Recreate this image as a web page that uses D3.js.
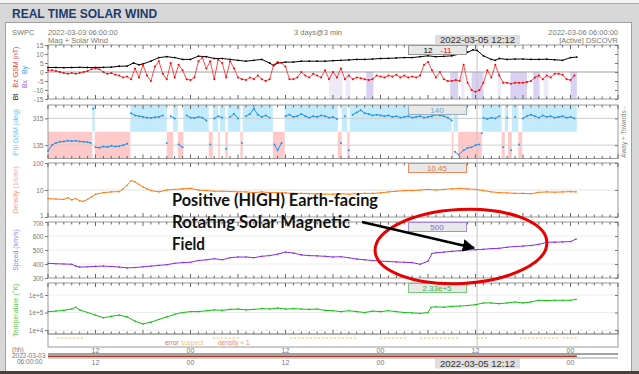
<!DOCTYPE html>
<html>
<head>
<meta charset="UTF-8">
<title>Real Time Solar Wind</title>
<style>
    body { margin: 0; background: #d7d7d7; }
    svg text { font-family: "Liberation Sans", Arial, sans-serif; }
</style>
</head>
<body>
<svg id="chart" width="639" height="374"></svg>
<script src="https://d3js.org/d3.v7.min.js"></script>
<script>

// hours after 2022-03-03 06:00 UTC
var cursorHour = 54.2;   // 2022-03-05 12:12

var bt = [[0,2.5],[1,2.5],[2,2.4],[3,2.5],[4,2.6],[5,2.5],[6,2.5],[7,2.6],[8,2.7],[9,3.2],[10,3.3],[10.8,5],[11.5,4],[12,4.5],[13,6],[14,8],[15,8.5],[16,8],[17,7],[18,7],[19,8.8],[20,8.5],[21,7.5],[22,7.5],[23,7],[24,6.5],[25,6],[26,6.5],[27,7],[28,5],[28.5,3.5],[29,5],[30,5.5],[31,5.5],[32,6],[33,6],[34,6],[35,6],[36,6.3],[37,6.5],[38,6.7],[39,7],[40,7],[41,7.2],[42,7.5],[43,7.6],[44,7.8],[45,8],[46,8],[47,8.5],[48,9],[49,8.5],[50,8.7],[51,9],[52,10],[53,11],[53.7,12.3],[54.2,12],[55,9],[56,7],[56.5,6.5],[57,7.5],[58,7],[59,7.2],[60,7.2],[61,7],[62,7],[63,7.1],[64,6.8],[65,6.5],[66,8],[66.8,8.3]];

var bz = [[0,1],[0.5,1],[1,0.5],[1.5,0],[2,-0.5],[2.5,-1],[3,-0.5],[3.5,-1],[4,-0.5],[4.5,0],[5,0.5],[5.5,1.5],[6,2],[6.5,1.5],[7,0],[7.5,-1],[8,-0.5],[8.5,-1.5],[9,-2],[9.5,-3],[10,-2.5],[10.5,-4],[11,2],[11.5,-3],[12,4],[12.5,-2],[13,-5],[13.5,3],[14,6],[14.5,-1],[15,-4],[15.5,5],[16,-3],[16.5,4],[17,1],[17.5,-4],[18,-4.5],[18.5,-3],[19,6],[19.5,8],[20,2],[20.5,6],[21,-4],[21.5,7],[22,5],[22.5,-3],[23,6],[23.5,2],[24,-3],[24.5,-4],[25,-4.5],[25.5,-3],[26,-4],[26.5,-2],[27,-4],[27.5,-5],[28,-4],[28.5,4],[29,5.5],[29.5,5],[30,3],[30.5,-4],[31,-4],[31.5,-3],[32,0],[32.5,-2],[33,-3],[33.5,-1],[34,-2],[34.5,-3],[35,1],[35.5,-4],[36,0],[36.5,-3],[37,2],[37.5,-4],[38,-2],[38.5,-4],[39,-3],[39.5,-3.5],[40,-4],[40.5,-4.5],[41,-4],[41.5,-2],[42,-2.5],[42.5,-3],[43,-2],[43.5,-2.5],[44,-1.5],[44.5,-3],[45,-2],[45.5,-3],[46,-2.5],[46.5,-3],[47,-2],[47.5,4],[48,5.5],[48.5,1],[49,-3],[49.5,0],[50,-4],[50.5,-5],[51,-5],[51.5,-4.5],[52,-5],[52.5,4],[53,-6],[53.5,-10],[54,-11],[54.5,-10],[55,-6],[55.5,1],[56,-3],[56.5,4],[57,-2],[57.5,-6],[58,-6],[58.5,-6.5],[59,-6],[59.5,-6],[60,-6],[60.5,-5.5],[61,-5],[61.5,-3],[62,-2],[62.5,-4],[63,-2],[63.5,-3],[64,-1],[64.5,-1],[65,-1.5],[65.5,-4],[66,-4.5],[66.5,-2]];

// southward Bz periods (purple shading): [start, end, strong?]
var bzSouth = [[35.5,37.2,0],[37.6,38.2,0],[40.2,41.1,1],[50.8,51.8,1],[52.2,52.6,0],[53.5,55,1],[56.8,57.2,0],[58.4,60.5,1],[61.3,62.1,1],[62.6,63.2,0],[66,66.8,1]];

var phi = [[0,95],[0.5,135],[1,150],[1.5,158],[2,160],[2.5,165],[3,162],[3.5,165],[4,160],[4.5,158],[5,155],[5.4,150],[5.7,20],[6,120],[6.5,118],[7,125],[7.5,122],[8,130],[8.5,125],[9,128],[9.5,135],[10,145],[10.5,350],[11,335],[11.5,330],[12,325],[12.5,320],[13,318],[13.5,322],[14,325],[14.5,335],[15,150],[15.5,330],[16,315],[16.5,140],[17,120],[17.5,335],[18,320],[18.5,318],[19,325],[19.5,320],[20,300],[20.5,140],[21,315],[21.5,330],[22,320],[22.5,110],[23,325],[23.5,345],[24,315],[24.5,150],[25,330],[25.5,345],[26,20],[26.5,340],[27,325],[27.5,335],[28,320],[28.6,140],[29,100],[29.5,150],[30,330],[30.5,340],[31,325],[31.5,330],[32,345],[32.5,330],[33,320],[33.5,330],[34,325],[34.5,335],[35,330],[35.5,320],[36,325],[36.5,310],[37,150],[37.5,330],[38,100],[38.5,340],[39,355],[39.5,10],[40,350],[40.5,345],[41,335],[41.5,340],[42,335],[42.5,330],[43,335],[43.5,325],[44,330],[44.5,320],[45,325],[45.5,330],[46,320],[46.5,325],[47,330],[47.5,320],[48,325],[48.5,330],[49,340],[49.5,335],[50,330],[50.5,320],[51,300],[51.4,90],[51.9,70],[52.5,100],[53,115],[53.5,120],[54,135],[54.5,140],[54.8,215],[55,320],[55.5,310],[56,320],[56.5,315],[57,330],[57.5,120],[58,320],[58.5,100],[59,325],[59.5,140],[60,315],[60.5,330],[61,340],[61.5,330],[62,320],[62.5,335],[63,325],[63.5,330],[64,320],[64.5,325],[65,330],[65.5,320],[66,325],[66.5,315]];

// IMF sector: A = away, T = towards
var sectors = [[0,5.6,"T"],[5.6,5.9,"A"],[5.9,10.4,"T"],[10.4,15.0,"A"],[15.0,15.8,"T"],[15.8,16.4,"A"],[16.4,17.1,"T"],[17.1,20.3,"A"],[20.3,20.8,"T"],[20.8,21.5,"A"],[21.5,21.7,"T"],[21.7,22.4,"A"],[22.4,22.7,"T"],[22.7,24.3,"A"],[24.3,24.6,"T"],[24.6,28.4,"A"],[28.4,29.9,"T"],[29.9,36.6,"A"],[36.6,37.1,"T"],[37.1,37.8,"A"],[37.8,38.1,"T"],[38.1,51.0,"A"],[51.0,51.2,"T"],[51.2,51.8,"A"],[51.8,54.8,"T"],[54.8,57.3,"A"],[57.3,57.7,"T"],[57.7,58.1,"A"],[58.1,58.6,"T"],[58.6,59.4,"A"],[59.4,59.9,"T"],[59.9,66.8,"A"]];

var density = [[0,4.8],[1,4.6],[2,4.5],[2.5,5.2],[3,4.3],[3.5,4.8],[4,4.0],[4.5,3.8],[5,4.5],[5.5,5.5],[6,7],[7,8],[8,8.5],[9,8.7],[9.5,11],[10,15],[10.5,22],[11,20],[11.5,16],[12,13],[12.5,11],[13,9.5],[14,8.5],[15,10],[16,10.5],[17,11],[18,11.5],[19,10],[20,9.5],[21,9],[22,9],[23,8.8],[24,8.5],[25,8.5],[26,8],[27,8.5],[28,8],[29,8],[30,7.8],[31,7.5],[32,7.5],[33,7.3],[34,7.2],[35,7],[36,7],[37,7.2],[38,7],[39,7.3],[40,7.5],[41,7.5],[42,7.8],[43,8.5],[44,9],[45,9.5],[46,9.5],[47,10],[48,10.5],[49,10],[50,10.5],[51,11],[52,11.5],[53,11],[54,10.5],[55,9.5],[56,8.5],[57,8],[58,7.8],[59,7.5],[60,7.5],[61,7.3],[62,8.2],[63,8.5],[64,8.3],[65,8.5],[66,8.7],[66.7,8.5]];

var speed = [[0,405],[1,402],[2,400],[3,398],[3.5,385],[4,378],[5,380],[6,383],[7,385],[8,382],[9,378],[10,372],[11,375],[12,380],[13,385],[14,390],[15,395],[16,405],[17,410],[18,412],[19,425],[20,430],[21,438],[22,430],[23,445],[24,450],[25,450],[26,445],[27,455],[28,460],[29,470],[30,485],[31,478],[32,465],[33,460],[34,458],[35,455],[36,450],[37,452],[38,445],[39,435],[40,430],[41,425],[42,420],[43,418],[44,415],[45,412],[46,410],[47,398],[48,420],[48.5,475],[49,480],[50,485],[51,490],[52,495],[53,500],[54,502],[55,505],[56,510],[57,512],[58,520],[59,525],[60,528],[61,532],[62,540],[63,555],[64,556],[65,558],[66,560],[66.7,578]];

var temperature = [[0,1.12e5],[1,1.2e5],[2,1.32e5],[3,1.58e5],[3.5,2.0e5],[4,1.41e5],[5,1.0e5],[6,7.1e4],[7,5.0e4],[8,6.0e4],[9,7.1e4],[10,5.6e4],[11,3.2e4],[12,2.2e4],[13,2.8e4],[14,4.0e4],[15,5.6e4],[16,7.9e4],[17,1.0e5],[18,1.12e5],[19,1.12e5],[20,1.26e5],[21,1.41e5],[22,1.32e5],[23,1.5e5],[24,1.58e5],[25,1.41e5],[26,1.5e5],[27,1.66e5],[28,1.58e5],[29,1.78e5],[30,1.58e5],[31,1.66e5],[32,1.58e5],[33,1.5e5],[34,1.58e5],[35,1.32e5],[36,1.26e5],[37,1.12e5],[38,1.26e5],[39,1.12e5],[40,1.0e5],[41,1.2e5],[42,1.12e5],[43,1.26e5],[44,1.12e5],[45,1.0e5],[46,9.5e4],[47,8.9e4],[48,1.0e5],[48.4,2.0e5],[49,2.1e5],[50,2.0e5],[51,2.24e5],[52,2.33e5],[53,2.5e5],[54,2.8e5],[55,3.5e5],[56,3.5e5],[57,3.2e5],[58,3.5e5],[59,4.0e5],[60,3.5e5],[61,4.0e5],[62,5.0e5],[63,4.8e5],[64,5.0e5],[65,5.0e5],[66,5.0e5],[66.7,5.6e5]];

// suspect data flags
var suspectFlags = [[1.1,4.4],[20.8,24.3],[30.6,39],[41.9,45.3],[47,52],[54.2,55.5],[59.6,64.7],[65,66.8]];

var hourTicks = [6, 18, 30, 42, 54, 66];
var hourLabels = ["12", "00", "12", "00", "12", "00"];

var bTicks = [15, 10, 5, 0, -5, -10, -15];
var phiTicks = [315, 135];
var denTicks = [100, 10, 1];
var spdTicks = [700, 600, 500, 400, 300];
var tmpTicks = [1e6, 1e5, 1e4];
var tmpTickLabels = ["1e+6", "1e+5", "1e+4"];

var svg = d3.select("#chart");

var x = d3.scaleLinear().domain([0, 72]).range([48, 618]);

// page frame
svg.append("rect").attr("x", 0).attr("y", 0).attr("width", 639).attr("height", 3).style("fill", "#f4f4f4");
svg.append("line").attr("x1", 0).attr("x2", 639).attr("y1", 3.5).attr("y2", 3.5).style("stroke", "#a8a8a8");
svg.append("text").attr("x", 12).attr("y", 17.5)
    .style("font-size", "12px").style("font-weight", "bold").style("fill", "#1d3b6c")
    .text("REAL TIME SOLAR WIND");
svg.append("rect").attr("x", 5.5).attr("y", 22.5).attr("width", 626).attr("height", 352)
    .style("fill", "#ffffff").style("stroke", "#a0a0a0");
svg.append("rect").attr("x", 0).attr("y", 371).attr("width", 639).attr("height", 3).style("fill", "#4a4038");

var small = "6.5px", grey = "#777";

svg.append("text").attr("x", 12).attr("y", 35).style("font-size", "7.5px").style("fill", grey).text("SWPC");
svg.append("text").attr("x", 48).attr("y", 35).style("font-size", "7.5px").style("fill", grey).text("2022-03-03 06:00:00");
svg.append("text").attr("x", 48).attr("y", 42.5).style("font-size", "7.5px").style("fill", grey).text("Mag + Solar Wind");
svg.append("text").attr("x", 318).attr("y", 35).attr("text-anchor", "middle").style("font-size", "7.5px").style("fill", grey).text("3 days@3 min");
svg.append("text").attr("x", 618).attr("y", 35).attr("text-anchor", "end").style("font-size", "7.5px").style("fill", grey).text("2022-03-06 06:00:00");
svg.append("text").attr("x", 618).attr("y", 42.5).attr("text-anchor", "end").style("font-size", "7.5px").style("fill", grey).text("[Active] DSCOVR");

// panels
var panels = [
    { top: 45, bottom: 99 },
    { top: 105, bottom: 158.5 },
    { top: 163, bottom: 217 },
    { top: 222, bottom: 278 },
    { top: 283, bottom: 334 }
];

var yB = d3.scaleLinear().domain([-15, 15]).range([99, 45]);
var yPhi = d3.scaleLinear().domain([45, 405]).range([158.5, 105]);
var yDen = d3.scaleLog().domain([1, 100]).range([217, 163]);
var ySpd = d3.scaleLinear().domain([300, 700]).range([278, 222]);
var yTmp = d3.scaleLog().domain([1e4, 1e6]).range([330, 295]);

function wrapPhi(v) { return v < 45 ? v + 360 : v; }

// sector shading
var gShade = svg.append("g");
gShade.selectAll("rect.sec")
    .data(sectors)
    .enter().append("rect")
    .attr("class", "sec")
    .attr("x", function(d) { return x(d[0]); })
    .attr("width", function(d) { return x(d[1]) - x(d[0]); })
    .attr("y", function(d) { return d[2] == "A" ? yPhi(405) : yPhi(225); })
    .attr("height", function(d) { return d[2] == "A" ? yPhi(225) - yPhi(405) : yPhi(45) - yPhi(225); })
    .style("fill", function(d) { return d[2] == "A" ? "#c3ebfb" : "#ffc9c9"; });

gShade.selectAll("rect.south")
    .data(bzSouth)
    .enter().append("rect")
    .attr("class", "south")
    .attr("x", function(d) { return x(d[0]); })
    .attr("width", function(d) { return x(d[1]) - x(d[0]); })
    .attr("y", yB(0))
    .attr("height", yB(-15) - yB(0))
    .style("fill", function(d) { return d[2] ? "#d9d1f1" : "#eeeaf8"; });

// gridlines
function hgrid(scale, vals, col) {
    svg.append("g").selectAll("line")
        .data(vals)
        .enter().append("line")
        .attr("x1", x(0)).attr("x2", x(72))
        .attr("y1", function(d) { return scale(d); })
        .attr("y2", function(d) { return scale(d); })
        .style("stroke", col);
}
hgrid(yB, [0], "#a0a0a0");
hgrid(yPhi, [315, 135], "#cfcfcf");
hgrid(yDen, [10], "#e2e2e2");
hgrid(ySpd, [400, 500, 600], "#ececec");
hgrid(yTmp, [1e4, 1e5, 1e6], "#ececec");

// cursor line
svg.append("line")
    .attr("x1", x(cursorHour)).attr("x2", x(cursorHour))
    .attr("y1", 45).attr("y2", 347)
    .style("stroke", "#c4c4c4");

// frames and time ticks
var hours = d3.range(0, 73);
panels.forEach(function(p, i) {
    var g = svg.append("g");
    g.append("rect")
        .attr("x", x(0)).attr("y", p.top)
        .attr("width", x(72) - x(0)).attr("height", p.bottom - p.top)
        .style("fill", "none").style("stroke", "#9a9a9a");
    g.selectAll("line.t")
        .data(hours)
        .enter().append("line")
        .attr("x1", function(d) { return x(d); }).attr("x2", function(d) { return x(d); })
        .attr("y1", p.top)
        .attr("y2", function(d) { return p.top + (d % 6 == 0 ? 4 : 2.5); })
        .style("stroke", "#666");
    g.selectAll("line.b")
        .data(hours)
        .enter().append("line")
        .attr("x1", function(d) { return x(d); }).attr("x2", function(d) { return x(d); })
        .attr("y1", p.bottom)
        .attr("y2", function(d) { return p.bottom - (d % 6 == 0 ? 4 : 2.5); })
        .style("stroke", "#666");
});

// flag strip
svg.append("rect").attr("x", x(0)).attr("y", 334).attr("width", x(72) - x(0)).attr("height", 13)
    .style("fill", "none").style("stroke", "#9a9a9a");
svg.append("g").selectAll("line")
    .data(suspectFlags)
    .enter().append("line")
    .attr("x1", function(d) { return x(d[0]); }).attr("x2", function(d) { return x(d[1]); })
    .attr("y1", 338).attr("y2", 338)
    .style("stroke", "#f3cf8f").style("stroke-width", 1.5).style("stroke-dasharray", "2,2");
svg.append("text").attr("x", 165).attr("y", 345).style("font-size", "6.5px").style("fill", "#e36a6a").text("error");
svg.append("text").attr("x", 181).attr("y", 345).style("font-size", "6.5px").style("fill", "#f2c27f").text("suspect");
svg.append("text").attr("x", 218).attr("y", 345).style("font-size", "6.5px").style("fill", "#f08a6a").text("density < 1");

// y axes
function yAxis(scale, vals, fmt, nudge) {
    var g = svg.append("g").attr("transform", "translate(" + x(0) + ",0)")
        .call(d3.axisLeft(scale).tickValues(vals).tickFormat(fmt).tickSize(3).tickPadding(1.5));
    g.select(".domain").remove();
    g.selectAll("text").style("font-size", small).style("fill", "#777").style("font-family", "Liberation Sans, Arial, sans-serif");
    g.selectAll("line").style("stroke", "#777");
    if (nudge) {
        g.selectAll("text").attr("y", function(d) { return nudge[d] || 0; });
    }
    var g2 = svg.append("g").attr("transform", "translate(" + x(72) + ",0)")
        .call(d3.axisLeft(scale).tickValues(vals).tickFormat("").tickSize(3));
    g2.select(".domain").remove();
    g2.selectAll("line").style("stroke", "#777");
}
yAxis(yB, bTicks, function(d) { return d; });
yAxis(yPhi, phiTicks, function(d) { return d; });
yAxis(yDen, denTicks, function(d) { return d; }, { 1: -1.5 });
yAxis(ySpd, spdTicks, function(d) { return d; }, { 700: 1.5 });
yAxis(yTmp, tmpTicks, function(d, i) { return tmpTickLabels[i]; });

// axis titles
function vlabel(xp, yp, txt, col) {
    svg.append("text")
        .attr("transform", "translate(" + xp + "," + yp + ") rotate(-90)")
        .attr("text-anchor", "middle")
        .style("font-size", "7px").style("fill", col)
        .text(txt);
}
vlabel(18, 67, "Bz GSM (nT)", "#f04040");
vlabel(18, 97, "Bt", "#222");
vlabel(27, 70, "By", "#3aa0f0");
vlabel(27, 84, "Bx", "#8a5fd8");
vlabel(18, 132, "Phi GSM (deg)", "#5fc4f5");
vlabel(18, 190, "Density (1/cm\u00b3)", "#f49a82");
vlabel(18, 250, "Speed (km/s)", "#9b7ee6");
vlabel(18, 310, "Temperature (\u00b0K)", "#5cc85c");
svg.append("text")
    .attr("transform", "translate(626,132) rotate(-90)")
    .attr("text-anchor", "middle")
    .style("font-size", "6.5px").style("fill", "#888")
    .text("Away + Towards -");

// series
function series(data, scale, col, r, w) {
    var line = d3.line()
        .x(function(d) { return x(d[0]); })
        .y(function(d) { return scale(d[1]); });
    svg.append("path").datum(data).attr("d", line)
        .style("fill", "none").style("stroke", col).style("stroke-width", w);
    svg.append("g").selectAll("circle")
        .data(data)
        .enter().append("circle")
        .attr("cx", function(d) { return x(d[0]); })
        .attr("cy", function(d) { return scale(d[1]); })
        .attr("r", r)
        .style("fill", col);
}
series(bt, yB, "#000000", 0.9, 1);
series(bz, yB, "#ff0000", 1, 0.7);
series(density, yDen, "#ff7a10", 0.8, 1);
series(speed, ySpd, "#8a2be2", 0.8, 1);
series(temperature, yTmp, "#10c010", 0.8, 1);

// phi: break the line at sector jumps
var phiSegs = [];
phi.forEach(function(d, i) {
    if (i > 0 && Math.abs(wrapPhi(d[1]) - wrapPhi(phi[i - 1][1])) < 60) {
        phiSegs.push([phi[i - 1], d]);
    }
});
var phiLine = d3.line()
    .x(function(d) { return x(d[0]); })
    .y(function(d) { return yPhi(wrapPhi(d[1])); });
svg.append("g").selectAll("path")
    .data(phiSegs)
    .enter().append("path")
    .attr("d", phiLine)
    .style("fill", "none").style("stroke", "#1e96f0").style("stroke-width", 1);
svg.append("g").selectAll("circle")
    .data(phi)
    .enter().append("circle")
    .attr("cx", function(d) { return x(d[0]); })
    .attr("cy", function(d) { return yPhi(wrapPhi(d[1])); })
    .attr("r", 1)
    .style("fill", "#1e96f0");

// value boxes at the cursor
var boxes = [
    { y: 45, parts: [["12", "#000", 428], ["-11", "#ff0000", 446]], stroke: "#9a9a9a" },
    { y: 105, parts: [["140", "#6fa6d6", 437]], stroke: "#9ab0c0" },
    { y: 163, parts: [["10.45", "#f07040", 437]], stroke: "#f08a60" },
    { y: 222, parts: [["500", "#8a5fd8", 437]], stroke: "#a58ae0" },
    { y: 283, parts: [["2.33e+5", "#40b040", 437]], stroke: "#7cc87c" }
];
boxes.forEach(function(b) {
    svg.append("rect").attr("x", 408.5).attr("y", b.y + 0.5).attr("width", 58).attr("height", 9)
        .style("fill", "#e8e8e8").style("stroke", b.stroke);
    b.parts.forEach(function(p) {
        svg.append("text").attr("x", p[2]).attr("y", b.y + 7.7)
            .attr("text-anchor", "middle")
            .style("font-size", "8px").style("fill", p[1]).text(p[0]);
    });
});

// bottom time axis
svg.append("line").attr("x1", x(0)).attr("x2", x(72)).attr("y1", 354).attr("y2", 354).style("stroke", "#444");
svg.append("line").attr("x1", x(0)).attr("x2", x(66.8)).attr("y1", 356.2).attr("y2", 356.2).style("stroke", "#a83222").style("stroke-width", 1.6);
svg.append("line").attr("x1", x(0)).attr("x2", x(72)).attr("y1", 358).attr("y2", 358).style("stroke", "#999");
svg.append("g").selectAll("text")
    .data(hourTicks)
    .enter().append("text")
    .attr("x", function(d) { return x(d); })
    .attr("y", 353)
    .attr("text-anchor", "middle")
    .style("font-size", "7px").style("fill", "#777")
    .text(function(d, i) { return hourLabels[i]; });
// lower row: the 12 under the cursor box is hidden
svg.append("g").selectAll("text")
    .data(hourTicks.filter(function(d) { return Math.abs(d - cursorHour) > 3; }))
    .enter().append("text")
    .attr("x", function(d) { return x(d); })
    .attr("y", 365)
    .attr("text-anchor", "middle")
    .style("font-size", "7px").style("fill", "#777")
    .text(function(d) { return hourLabels[hourTicks.indexOf(d)]; });

[35, 359].forEach(function(yy) {
    svg.append("rect").attr("x", 435).attr("y", yy).attr("width", 85).attr("height", 9.5)
        .style("fill", "#dedede");
    svg.append("text").attr("x", 477.5).attr("y", yy + 8.3).attr("text-anchor", "middle")
        .style("font-size", "9.5px").style("fill", "#333").text("2022-03-05 12:12");
});

svg.append("text").attr("x", 12).attr("y", 352).style("font-size", "6.5px").style("fill", grey).text("(hh)");
svg.append("text").attr("x", 12).attr("y", 358).style("font-size", "6.5px").style("fill", grey).text("2022-03-03");
svg.append("text").attr("x", 17).attr("y", 364).style("font-size", "6.5px").style("fill", grey).text("06:00:00");

// annotation
var note = svg.append("g").style("font-family", "Lato, 'Open Sans', sans-serif").style("font-weight", "bold")
    .style("font-size", "16.5px").style("fill", "#111");
note.append("text").attr("x", 172).attr("y", 206).attr("textLength", 206).attr("lengthAdjust", "spacingAndGlyphs")
    .style("font-family", "Lato, sans-serif").text("Positive (HIGH) Earth-facing");
note.append("text").attr("x", 172).attr("y", 228).attr("textLength", 178).attr("lengthAdjust", "spacingAndGlyphs")
    .style("font-family", "Lato, sans-serif").text("Rotating Solar Magnetic");
note.append("text").attr("x", 172).attr("y", 250).attr("textLength", 33).attr("lengthAdjust", "spacingAndGlyphs")
    .style("font-family", "Lato, sans-serif").text("Field");

svg.append("ellipse")
    .attr("cx", 461).attr("cy", 246.5).attr("rx", 86).attr("ry", 37)
    .attr("transform", "rotate(-3 461 246.5)")
    .style("fill", "none").style("stroke", "#e60000").style("stroke-width", 3);

svg.append("defs").append("marker")
    .attr("id", "head").attr("viewBox", "0 0 10 10").attr("refX", 9).attr("refY", 5)
    .attr("markerWidth", 5).attr("markerHeight", 5).attr("orient", "auto")
    .append("path").attr("d", "M0,0 L10,5 L0,10 z").style("fill", "#000");
svg.append("line")
    .attr("x1", 362).attr("y1", 222).attr("x2", 474).attr("y2", 248)
    .attr("marker-end", "url(#head)")
    .style("stroke", "#000").style("stroke-width", 2.5);

</script>
</body>
</html>
